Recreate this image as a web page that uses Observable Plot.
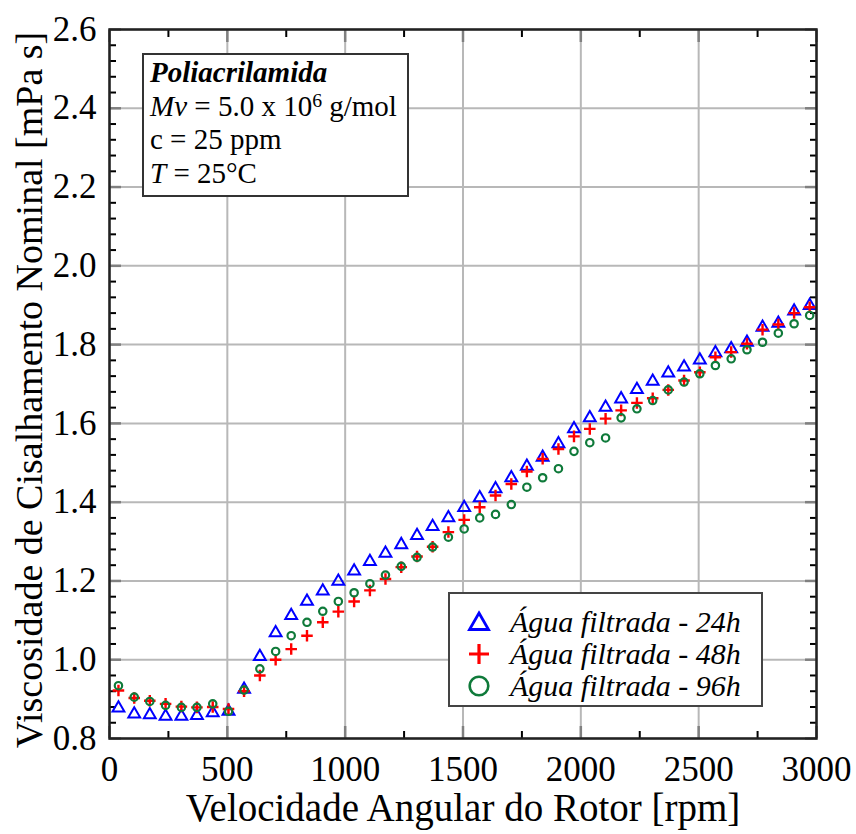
<!DOCTYPE html>
<html>
<head>
<meta charset="utf-8">
<script src="https://cdn.jsdelivr.net/npm/d3@7"></script>
<script src="https://cdn.jsdelivr.net/npm/@observablehq/plot@0.6"></script>
<style>
  html, body { margin: 0; padding: 0; background: #fff; }
  #wrap { position: relative; width: 856px; height: 834px; font-family: "Liberation Serif", "Times New Roman", serif; }
  #wrap svg, #wrap svg text { font-family: "Liberation Serif", "Times New Roman", serif !important; }
  #note { position: absolute; left: 142px; top: 53px; width: 267px; height: 144px; box-sizing: border-box;
          border: 2px solid #333; background: #fff; padding: 1px 0 0 6px; font-size: 29px; line-height: 33.5px; color: #000; }
  #note sup { font-size: 0.68em; position: relative; top: -0.45em; vertical-align: baseline; line-height: 0; }
  #legend { position: absolute; left: 448px; top: 592px; width: 315px; height: 115px; box-sizing: border-box;
            border: 2px solid #444; background: #fff; padding-top: 12px; font-size: 30px; font-style: italic; color: #000; }
  .row { display: flex; align-items: center; height: 32px; }
  .row svg { margin-left: 17px; width: 24px; height: 24px; flex: none; }
  .row span { margin-left: 19px; white-space: nowrap; }
</style>
</head>
<body>
<div id="wrap"></div>
<script>
// Rotor speed (rpm)
const rpm = [38,105,171,238,305,371,438,505,571,638,705,771,838,905,971,1038,1105,1171,1238,1305,1371,1438,1505,1571,1638,1705,1771,1838,1905,1971,2038,2105,2171,2238,2305,2371,2438,2505,2571,2638,2705,2771,2838,2905,2971];
// Nominal shear viscosity [mPa s]
const v24 = [0.877,0.862,0.860,0.856,0.856,0.858,0.865,0.869,0.925,1.008,1.068,1.112,1.148,1.174,1.199,1.225,1.249,1.270,1.292,1.315,1.338,1.360,1.386,1.411,1.434,1.462,1.491,1.514,1.548,1.586,1.614,1.641,1.662,1.686,1.707,1.728,1.743,1.761,1.779,1.789,1.806,1.844,1.854,1.885,1.899];
const v48 = [0.922,0.903,0.896,0.888,0.881,0.879,0.880,0.875,0.920,0.960,1.000,1.027,1.061,1.095,1.122,1.148,1.176,1.205,1.235,1.262,1.287,1.324,1.355,1.387,1.417,1.446,1.478,1.510,1.535,1.567,1.586,1.612,1.633,1.652,1.664,1.685,1.709,1.730,1.768,1.781,1.802,1.838,1.851,1.880,1.895];
const v96 = [0.934,0.905,0.894,0.884,0.879,0.879,0.888,0.869,0.923,0.977,1.021,1.061,1.095,1.123,1.148,1.170,1.193,1.215,1.237,1.260,1.286,1.311,1.332,1.360,1.369,1.394,1.438,1.462,1.485,1.529,1.551,1.563,1.614,1.637,1.658,1.685,1.705,1.726,1.747,1.764,1.787,1.806,1.829,1.853,1.874];

const seriesNames = ["Água filtrada - 24h", "Água filtrada - 48h", "Água filtrada - 96h"];
const xTicks = [0,500,1000,1500,2000,2500,3000];
const xMinor = [250,750,1250,1750,2250,2750];
const yTicks = [0.8,1.0,1.2,1.4,1.6,1.8,2.0,2.2,2.4,2.6];
const yMinor = [0.84,0.88,0.92,0.96,1.04,1.08,1.12,1.16,1.24,1.28,1.32,1.36,1.44,1.48,1.52,1.56,1.64,1.68,1.72,1.76,1.84,1.88,1.92,1.96,2.04,2.08,2.12,2.16,2.24,2.28,2.32,2.36,2.44,2.48,2.52,2.56];
const xLabel = "Velocidade Angular do Rotor [rpm]";
const yLabel = "Viscosidade de Cisalhamento Nominal [mPa s]";

const BLUE = "#0000ff", RED = "#ff0000", GREEN = "#0f7a3a";
const SERIF = "Liberation Serif, Times New Roman, serif";

const d24 = rpm.map((x, i) => ({x, y: v24[i]}));
const d48 = rpm.map((x, i) => ({x, y: v48[i]}));
const d96 = rpm.map((x, i) => ({x, y: v96[i]}));

const gridStyle = {stroke: "#b8b8b8", strokeOpacity: 1, strokeWidth: 2};
const majorTick = {fill: "none", stroke: "#808080", strokeWidth: 2.5, tickSize: 12};
const minorTick = {fill: "none", stroke: "#000", strokeWidth: 2, tickSize: 7};

const chart = Plot.plot({
  width: 856,
  height: 834,
  marginLeft: 109,
  marginRight: 40,
  marginTop: 29,
  marginBottom: 96,
  style: {fontFamily: SERIF, background: "#fff", color: "#000"},
  x: {domain: [0, 3000], axis: null},
  y: {domain: [0.8, 2.6], axis: null},
  marks: [
    Plot.gridX(xTicks, gridStyle),
    Plot.gridY(yTicks, gridStyle),
    // major ticks (inward)
    Plot.axisX(xTicks, {anchor: "bottom", dy: -12, ...majorTick}),
    Plot.axisX(xTicks, {anchor: "top", dy: 12, ...majorTick}),
    Plot.axisY(yTicks, {anchor: "left", dx: 12, ...majorTick}),
    Plot.axisY(yTicks, {anchor: "right", dx: -12, ...majorTick}),
    // minor ticks (inward)
    Plot.axisX(xMinor, {anchor: "bottom", dy: -7, ...minorTick}),
    Plot.axisX(xMinor, {anchor: "top", dy: 7, ...minorTick}),
    Plot.axisY(yMinor, {anchor: "left", dx: 7, ...minorTick}),
    Plot.axisY(yMinor, {anchor: "right", dx: -7, ...minorTick}),
    // tick labels
    Plot.axisX(xTicks, {anchor: "bottom", tickSize: 0, tickPadding: 18, fontSize: 35, fontFamily: SERIF, label: null, tickFormat: d => String(d)}),
    Plot.axisY(yTicks, {anchor: "left", tickSize: 0, tickPadding: 13, fontSize: 35, fontFamily: SERIF, label: null, tickFormat: d3.format(".1f")}),
    // axis titles
    Plot.text([xLabel], {frameAnchor: "bottom", textAnchor: "middle", lineAnchor: "middle", dy: 70, fontSize: 39, fontFamily: SERIF, fill: "#000"}),
    Plot.text([yLabel], {frameAnchor: "left", textAnchor: "middle", lineAnchor: "middle", rotate: -90, dx: -80, dy: 6, fontSize: 38, fontFamily: SERIF, fill: "#000"}),
    // data
    Plot.dot(d24, {x: "x", y: "y", symbol: "triangle", r: 4.4, stroke: BLUE, strokeWidth: 2, fill: "none"}),
    Plot.dot(d48, {x: "x", y: "y", symbol: "plus", r: 3.8, stroke: RED, strokeWidth: 2.4}),
    Plot.dot(d96, {x: "x", y: "y", symbol: "circle", r: 3.7, stroke: GREEN, strokeWidth: 2.2, fill: "none"}),
    Plot.frame({stroke: "#222", strokeWidth: 2.5})
  ]
});

const wrap = document.getElementById("wrap");
wrap.appendChild(chart);

const note = document.createElement("div");
note.id = "note";
note.innerHTML = '<div><b><i>Poliacrilamida</i></b></div>' +
  '<div><i>Mv</i> = 5.0 x 10<sup>6</sup> g/mol</div>' +
  '<div>c = 25 ppm</div>' +
  '<div><i>T</i> = 25°C</div>';
wrap.appendChild(note);

const symbols = [
  `<polygon points="12,3 21.5,19.5 2.5,19.5" fill="none" stroke="${BLUE}" stroke-width="2.8"/>`,
  `<path d="M2,12H22M12,2V22" stroke="${RED}" stroke-width="3.2"/>`,
  `<circle cx="12" cy="12" r="9.3" fill="none" stroke="${GREEN}" stroke-width="2.6"/>`
];
const legend = document.createElement("div");
legend.id = "legend";
legend.innerHTML = seriesNames.map((name, i) =>
  `<div class="row"><svg viewBox="0 0 24 24">${symbols[i]}</svg><span>${name}</span></div>`).join("");
wrap.appendChild(legend);
</script>
</body>
</html>
